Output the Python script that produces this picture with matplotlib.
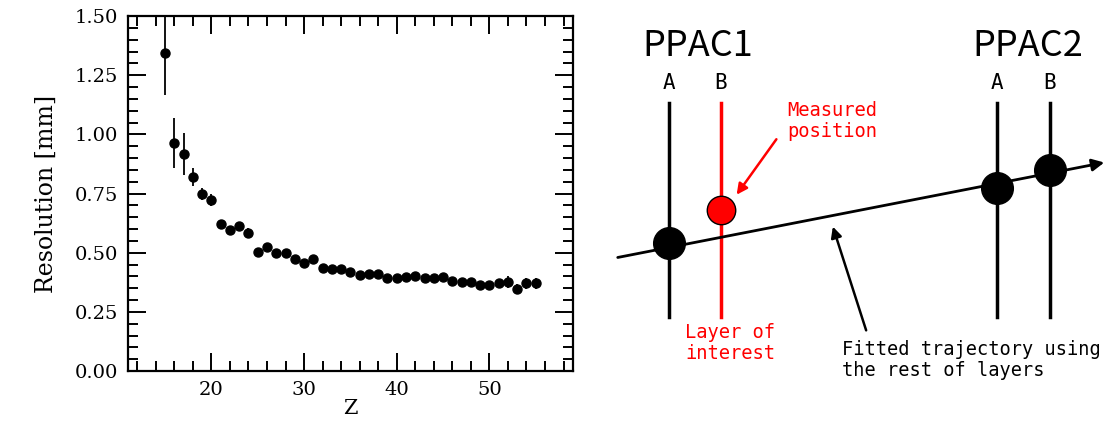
import numpy as np
import matplotlib
matplotlib.use("Agg")
import matplotlib.pyplot as plt
from matplotlib.ticker import MultipleLocator

# ---- resolution vs Z ----
z = np.arange(15, 56)
res = [1.343, 0.963, 0.917, 0.820, 0.748, 0.722, 0.620, 0.596, 0.613, 0.583,
       0.503, 0.524, 0.499, 0.499, 0.473, 0.456, 0.473, 0.437, 0.431, 0.431,
       0.419, 0.407, 0.410, 0.410, 0.391, 0.391, 0.398, 0.400, 0.395, 0.395,
       0.398, 0.380, 0.376, 0.375, 0.365, 0.362, 0.370, 0.376, 0.347, 0.370,
       0.370]
err = [0.175, 0.105, 0.09, 0.04, 0.025, 0.025, 0.02, 0.015, 0.015, 0.02,
       0.015, 0.015, 0.012, 0.012, 0.012, 0.012, 0.012, 0.01, 0.01, 0.01,
       0.01, 0.01, 0.01, 0.01, 0.01, 0.01, 0.01, 0.01, 0.01, 0.01,
       0.01, 0.01, 0.01, 0.01, 0.01, 0.012, 0.015, 0.025, 0.02, 0.025,
       0.025]

# ---- schematic (pixel coordinates of the sketch) ----
layer_x = [669, 721, 997, 1050]
layer_col = ['black', 'red', 'black', 'black']
layer_lbl = ['A', 'B', 'A', 'B']
layer_top, layer_bot = 103, 317
hit_x = [669, 997, 1050]
hit_y = [243, 188, 170]
meas_x, meas_y = 721, 210
traj = [(615, 258), (1107, 162)]

fig = plt.figure(figsize=(11.08, 4.24), dpi=100)

ax = fig.add_axes([0.1155, 0.125, 0.4015, 0.837])
ax.errorbar(z, res, yerr=err, fmt='o', color='black', ms=6.5, elinewidth=1.3, capsize=0)
ax.set_xlim(11, 59)
ax.set_ylim(0, 1.5)
ax.xaxis.set_major_locator(MultipleLocator(10))
ax.xaxis.set_minor_locator(MultipleLocator(2))
ax.yaxis.set_major_locator(MultipleLocator(0.25))
ax.yaxis.set_minor_locator(MultipleLocator(0.05))
ax.yaxis.set_major_formatter(matplotlib.ticker.FormatStrFormatter('%.2f'))
ax.tick_params(which='both', direction='in', top=True, right=True, width=1.4)
ax.tick_params(which='major', length=13, labelsize=14, pad=7)
ax.tick_params(which='minor', length=7)
for lab in ax.get_xticklabels() + ax.get_yticklabels():
    lab.set_family('DejaVu Serif')
for s in ax.spines.values():
    s.set_linewidth(1.6)
ax.set_xlabel('Z', family='DejaVu Serif', fontsize=15, labelpad=0)
ax.set_ylabel('Resolution [mm]', family='DejaVu Serif', fontsize=17, labelpad=12)

# ---- schematic ----
d = fig.add_axes([0, 0, 1, 1])
d.set_xlim(0, 1108)
d.set_ylim(424, 0)
d.axis('off')

d.annotate('', xy=traj[1], xytext=traj[0],
           arrowprops=dict(arrowstyle='-|>', color='black', lw=2, mutation_scale=18))
for x, c, l in zip(layer_x, layer_col, layer_lbl):
    d.plot([x, x], [layer_top, layer_bot], color=c, lw=2.5)
    d.text(x, 83, l, ha='center', va='center', fontsize=15, family='DejaVu Sans Mono')
d.scatter(hit_x, hit_y, s=520, color='black', zorder=3)
d.scatter([meas_x], [meas_y], s=420, color='red', edgecolor='black', lw=1, zorder=3)

d.text(698, 46, 'PPAC1', ha='center', va='center', fontsize=26, family='Noto Sans CJK JP')
d.text(1028, 46, 'PPAC2', ha='center', va='center', fontsize=26, family='Noto Sans CJK JP')

d.annotate('', xy=(735, 197), xytext=(778, 137),
           arrowprops=dict(arrowstyle='-|>', color='red', lw=1.8, mutation_scale=16))
d.annotate('', xy=(832, 224), xytext=(867, 333),
           arrowprops=dict(arrowstyle='-|>', color='black', lw=1.8, mutation_scale=16))

d.text(787, 121, 'Measured\nposition', color='red', ha='left', va='center',
       fontsize=13.5, family='DejaVu Sans Mono', linespacing=1.15)
d.text(685, 343, 'Layer of\ninterest', color='red', ha='left', va='center',
       fontsize=13.5, family='DejaVu Sans Mono', linespacing=1.15)
d.text(842, 360, 'Fitted trajectory using\nthe rest of layers', color='black',
       ha='left', va='center', fontsize=13.4, family='DejaVu Sans Mono', linespacing=1.15)

fig.savefig('out.png', dpi=100)
